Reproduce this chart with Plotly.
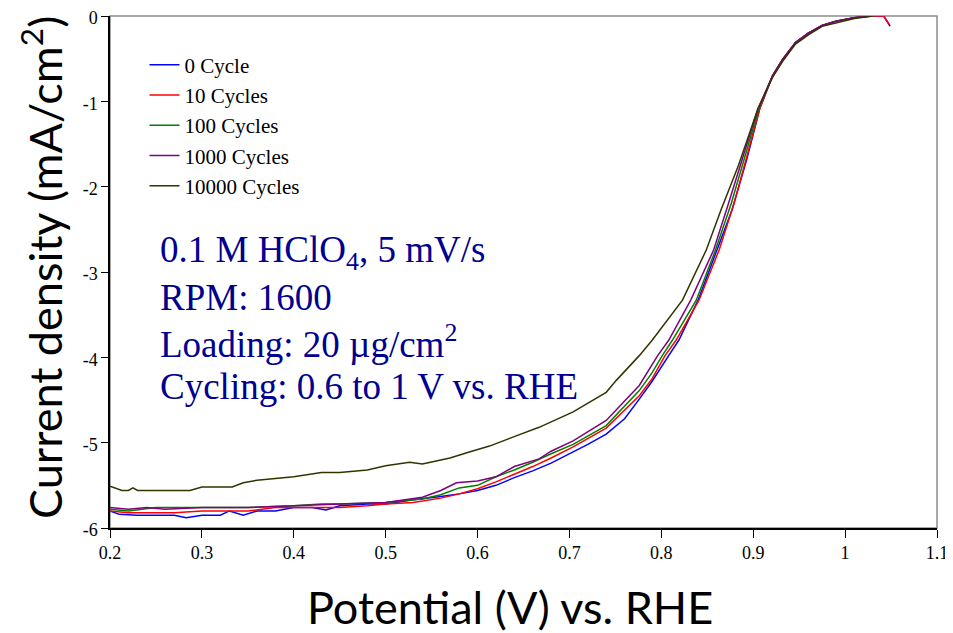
import plotly.graph_objects as go

# ---- data ----
v_0 = [0.200, 0.210, 0.230, 0.250, 0.270, 0.283, 0.300, 0.320, 0.330, 0.345, 0.360, 0.380, 0.400, 0.420,
       0.435, 0.450, 0.480, 0.500, 0.530, 0.560, 0.580, 0.600, 0.620, 0.640, 0.660, 0.680, 0.700, 0.720,
       0.740, 0.760, 0.776, 0.790, 0.808, 0.819, 0.840, 0.861, 0.877, 0.893, 0.907, 0.921, 0.932, 0.946,
       0.960, 0.975, 0.990, 1.010, 1.025, 1.042, 1.049]
j_0 = [-5.80, -5.84, -5.85, -5.85, -5.85, -5.88, -5.85, -5.85, -5.80, -5.85, -5.80, -5.80, -5.76, -5.76,
       -5.79, -5.74, -5.72, -5.72, -5.67, -5.63, -5.60, -5.56, -5.50, -5.41, -5.33, -5.24, -5.13, -5.02,
       -4.90, -4.72, -4.49, -4.28, -3.98, -3.80, -3.33, -2.74, -2.27, -1.68, -1.09, -0.70, -0.51, -0.31,
       -0.20, -0.11, -0.06, -0.02, 0.00, 0.00, -0.12]

v_10 = [0.200, 0.220, 0.250, 0.270, 0.300, 0.350, 0.380, 0.400, 0.450, 0.480, 0.500, 0.530, 0.560, 0.580,
        0.600, 0.620, 0.640, 0.660, 0.680, 0.704, 0.740, 0.776, 0.790, 0.804, 0.816, 0.841, 0.863, 0.879,
        0.893, 0.907, 0.921, 0.932, 0.946, 0.960, 0.975, 0.990, 1.010, 1.025, 1.042, 1.048]
j_10 = [-5.80, -5.82, -5.82, -5.82, -5.80, -5.80, -5.76, -5.76, -5.76, -5.74, -5.72, -5.70, -5.65, -5.60,
        -5.54, -5.46, -5.37, -5.28, -5.18, -5.05, -4.83, -4.45, -4.25, -3.98, -3.80, -3.33, -2.74, -2.20,
        -1.65, -1.09, -0.70, -0.51, -0.31, -0.20, -0.11, -0.06, -0.02, 0.00, 0.00, -0.10]

v_100 = [0.200, 0.220, 0.250, 0.300, 0.350, 0.400, 0.430, 0.450, 0.500, 0.540, 0.560, 0.580, 0.600, 0.620,
         0.640, 0.660, 0.680, 0.704, 0.740, 0.776, 0.790, 0.801, 0.812, 0.838, 0.859, 0.876, 0.891, 0.906,
         0.921, 0.932, 0.946, 0.960, 0.975, 0.990, 1.010, 1.030]
j_100 = [-5.78, -5.80, -5.76, -5.76, -5.76, -5.74, -5.72, -5.72, -5.70, -5.66, -5.61, -5.53, -5.50, -5.40,
         -5.32, -5.23, -5.13, -5.02, -4.80, -4.39, -4.18, -3.98, -3.80, -3.33, -2.74, -2.20, -1.65, -1.09,
         -0.70, -0.51, -0.31, -0.20, -0.11, -0.06, -0.02, 0.00]

v_1000 = [0.200, 0.220, 0.240, 0.260, 0.300, 0.350, 0.400, 0.440, 0.450, 0.500, 0.540, 0.560, 0.577, 0.600,
          0.620, 0.640, 0.667, 0.680, 0.704, 0.740, 0.776, 0.796, 0.808, 0.832, 0.857, 0.873, 0.889, 0.905,
          0.921, 0.932, 0.946, 0.960, 0.975, 0.990, 1.010, 1.030]
j_1000 = [-5.76, -5.78, -5.76, -5.78, -5.76, -5.76, -5.74, -5.72, -5.72, -5.70, -5.64, -5.56, -5.47, -5.45,
          -5.40, -5.28, -5.19, -5.10, -4.98, -4.74, -4.33, -3.98, -3.80, -3.33, -2.74, -2.20, -1.65, -1.09,
          -0.70, -0.51, -0.31, -0.20, -0.11, -0.06, -0.02, 0.00]

v_10000 = [0.200, 0.213, 0.220, 0.225, 0.230, 0.287, 0.300, 0.333, 0.345, 0.360, 0.400, 0.430, 0.450, 0.480,
           0.500, 0.526, 0.540, 0.570, 0.591, 0.613, 0.642, 0.667, 0.704, 0.722, 0.740, 0.751, 0.776, 0.790,
           0.823, 0.849, 0.865, 0.884, 0.905, 0.921, 0.932, 0.946, 0.960, 0.975, 1.010, 1.030]
j_10000 = [-5.51, -5.56, -5.56, -5.53, -5.56, -5.56, -5.52, -5.52, -5.47, -5.44, -5.40, -5.35, -5.35, -5.32,
           -5.27, -5.23, -5.25, -5.18, -5.11, -5.04, -4.92, -4.82, -4.64, -4.53, -4.41, -4.27, -3.98, -3.80,
           -3.33, -2.74, -2.27, -1.75, -1.09, -0.72, -0.53, -0.33, -0.22, -0.12, -0.03, 0.00]

series_names = ["0 Cycle", "10 Cycles", "100 Cycles", "1000 Cycles", "10000 Cycles"]
series_x = [v_0, v_10, v_100, v_1000, v_10000]
series_y = [j_0, j_10, j_100, j_1000, j_10000]
series_colors = ["#0000FF", "#FF0000", "#008000", "#800080", "#333300"]

x_ticks = [0.2, 0.3, 0.4, 0.5, 0.6, 0.7, 0.8, 0.9, 1.0, 1.1]
x_ticktext = ["0.2", "0.3", "0.4", "0.5", "0.6", "0.7", "0.8", "0.9", "1", "1.1"]
y_ticks = [0, -1, -2, -3, -4, -5, -6]
y_ticktext = ["0", "-1", "-2", "-3", "-4", "-5", "-6"]

conditions = ["0.1 M HClO<sub>4</sub>, 5 mV/s", "RPM: 1600", "Loading: 20 µg/cm<sup>2</sup>",
              "Cycling: 0.6 to 1 V vs. RHE"]
x_title = "Potential (V) vs. RHE"
y_title = "Current density (mA/cm<sup>2</sup>)"

# figure geometry (page has an 8px body margin)
W, H = 945, 625
L, R, T, B = 102, 16, 8, 105
PW, PH = W - L - R, H - T - B


def px(xf):
    return (xf - L) / PW


def py(yf):
    return 1 - (yf - T) / PH


fig = go.Figure()
for i, (name, xs, ys, c) in enumerate(zip(series_names, series_x, series_y, series_colors)):
    fig.add_trace(go.Scatter(x=xs, y=ys, mode="lines", name=name, legendgroup=str(i),
                             line=dict(color=c, width=1.5)))

serif = "Liberation Serif, Times New Roman, serif"
sans = "Lato, Open Sans, sans-serif"

fig.update_layout(
    width=W, height=H,
    margin=dict(l=L, r=R, t=T, b=B),
    paper_bgcolor="white", plot_bgcolor="white",
    showlegend=True,
    legend=dict(x=px(136.5), y=py(36.5), xanchor="left", yanchor="top", bgcolor="rgba(0,0,0,0)",
                font=dict(family=serif, size=21, color="black"), tracegroupgap=0,
                itemwidth=30),
    xaxis=dict(range=[0.2, 1.1], tickvals=x_ticks, ticktext=x_ticktext, showgrid=False, zeroline=False,
               showline=True, linecolor="black", linewidth=1.5, ticks="outside", ticklen=8,
               tickcolor="black", tickwidth=1, tickfont=dict(family=serif, size=18, color="black"),
               automargin=False, ticklabeloverflow="allow"),
    yaxis=dict(range=[-6, 0], tickvals=y_ticks, ticktext=y_ticktext, showgrid=False, zeroline=False,
               showline=True, linecolor="black", linewidth=1.5, ticks="outside", ticklen=7,
               tickcolor="black", tickwidth=1, tickfont=dict(family=serif, size=18, color="black"),
               automargin=False, ticklabeloverflow="allow", ticklabelshift=2),
)

# gray frame on top/right
fig.add_shape(type="rect", xref="paper", yref="paper", x0=0, y0=0, x1=1, y1=1,
              line=dict(color="#8c8c8c", width=1.5), layer="below")

# axis titles
fig.add_annotation(xref="paper", yref="paper", x=px(502), y=py(599), xanchor="center", yanchor="middle",
                   showarrow=False, text=x_title, font=dict(family=sans, size=45, color="black"))
fig.add_annotation(xref="paper", yref="paper", x=px(34), y=py(260), xanchor="center", yanchor="middle",
                   showarrow=False, text=y_title, textangle=-90,
                   font=dict(family=sans, size=45, color="black"))

# condition text, one line each
for line, yc in zip(conditions, [244, 289, 333, 378]):
    fig.add_annotation(xref="paper", yref="paper", x=px(150), y=py(yc), xanchor="left", yanchor="middle",
                       align="left", showarrow=False, text=line,
                       font=dict(family=serif, size=37, color="#000090"))

fig.write_html("out.html")
